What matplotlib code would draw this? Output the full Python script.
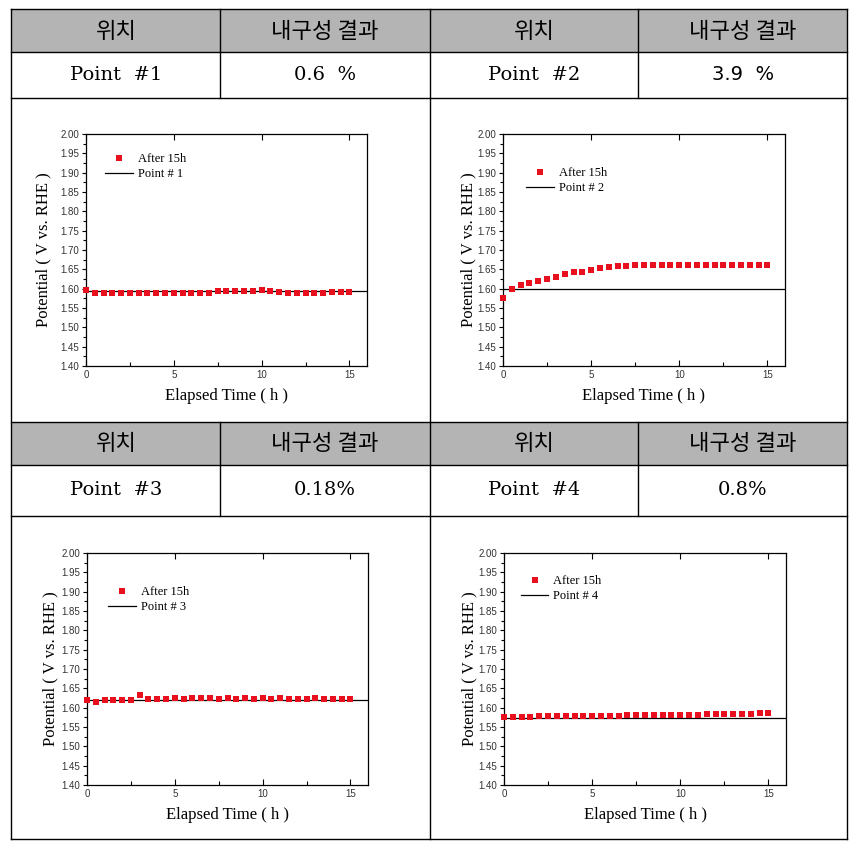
import matplotlib
matplotlib.use("Agg")
import matplotlib.pyplot as plt
from matplotlib.patches import Rectangle
from matplotlib.ticker import MultipleLocator, FormatStrFormatter

W, H = 857, 844

# --- table text
header_left = "위치"
header_right = "내구성 결과"
point_names = ["Point  #1", "Point  #2", "Point  #3", "Point  #4"]
durability = ["0.6  %", "3.9  %", "0.18%", "0.8%"]
legend_points = ["Point # 1", "Point # 2", "Point # 3", "Point # 4"]

# --- data (elapsed time in h, potential in V vs. RHE)
time_h = [0.0, 0.5, 1.0, 1.5, 2.0, 2.5, 3.0, 3.5, 4.0, 4.5, 5.0, 5.5, 6.0,
          6.5, 7.0, 7.5, 8.0, 8.5, 9.0, 9.5, 10.0, 10.5, 11.0, 11.5, 12.0,
          12.5, 13.0, 13.5, 14.0, 14.5, 15.0]

pot_1 = [1.596, 1.590, 1.590, 1.590, 1.590, 1.590, 1.590, 1.590, 1.589,
         1.589, 1.589, 1.588, 1.588, 1.590, 1.590, 1.593, 1.593, 1.594,
         1.595, 1.595, 1.596, 1.593, 1.591, 1.590, 1.590, 1.590, 1.590,
         1.590, 1.592, 1.592, 1.592]
pot_2 = [1.575, 1.598, 1.609, 1.615, 1.621, 1.626, 1.631, 1.637, 1.642,
         1.644, 1.648, 1.653, 1.656, 1.658, 1.659, 1.662, 1.661, 1.661,
         1.661, 1.660, 1.660, 1.660, 1.660, 1.660, 1.660, 1.660, 1.661,
         1.661, 1.661, 1.661, 1.662]
pot_3 = [1.620, 1.614, 1.620, 1.621, 1.619, 1.619, 1.634, 1.623, 1.623,
         1.623, 1.624, 1.623, 1.626, 1.624, 1.626, 1.623, 1.624, 1.623,
         1.624, 1.622, 1.624, 1.623, 1.624, 1.622, 1.623, 1.623, 1.624,
         1.623, 1.622, 1.623, 1.622]
pot_4 = [1.575, 1.575, 1.576, 1.577, 1.578, 1.578, 1.579, 1.579, 1.579,
         1.579, 1.579, 1.579, 1.579, 1.579, 1.580, 1.580, 1.580, 1.580,
         1.580, 1.580, 1.581, 1.582, 1.582, 1.583, 1.583, 1.584, 1.584,
         1.584, 1.584, 1.585, 1.585]
ref_line = [1.593, 1.600, 1.619, 1.573]
series = [pot_1, pot_2, pot_3, pot_4]

GRAY = "#b4b4b4"
RED = "#e8101c"
KR = ["Noto Sans CJK KR", "DejaVu Sans"]

fig = plt.figure(figsize=(W / 100, H / 100), dpi=100)
fig.patch.set_facecolor("white")

# background axes in pixel coordinates for the table
bg = fig.add_axes([0, 0, 1, 1], zorder=-1)
bg.set_xlim(0, W)
bg.set_ylim(H, 0)
bg.axis("off")

for top in (9, 422):
    bg.add_patch(Rectangle((11, top), 836, 43, facecolor=GRAY, edgecolor="none"))

lw = 1.0
for y in (9, 52, 98, 422, 465, 516, 839):
    bg.plot([11, 847], [y, y], color="black", lw=lw)
for x in (11, 430, 847):
    bg.plot([x, x], [9, 839], color="black", lw=lw)
for x in (220, 638):
    bg.plot([x, x], [9, 98], color="black", lw=lw)
    bg.plot([x, x], [422, 516], color="black", lw=lw)

# header and value rows
rows = [(31, 75, 0), (443, 490, 2)]
for y_head, y_val, k in rows:
    for col, xl, xr in ((0, 116, 325), (1, 534, 743)):
        bg.text(xl, y_head, header_left, ha="center", va="center",
                fontsize=16, family=KR)
        bg.text(xr, y_head, header_right, ha="center", va="center",
                fontsize=16, family=KR)
        i = k + col
        bg.text(xl, y_val, point_names[i], ha="center", va="center",
                fontsize=14, family="DejaVu Serif")
        fam = "DejaVu Sans" if i == 1 else "DejaVu Serif"
        bg.text(xr, y_val, durability[i], ha="center", va="center",
                fontsize=14, family=fam)

# chart panels: (left, top, right, bottom) in px, legend anchor, label offsets
panels = [
    ((86, 134, 367, 366), (0.068, 0.918), 43),
    ((503, 134, 785, 366), (0.082, 0.858), 35),
    ((87, 553, 368, 785), (0.075, 0.858), 37),
    ((504, 553, 786, 785), (0.060, 0.905), 35),
]

for i, ((l, t, r, b), leg_xy, ylab_off) in enumerate(panels):
    ax = fig.add_axes([l / W, 1 - b / H, (r - l) / W, (b - t) / H])
    ax.plot(time_h, series[i], "s", color=RED, ms=3.9, mew=0,
            label="After 15h", zorder=3, clip_on=False)
    ax.axhline(ref_line[i], color="black", lw=0.9, label=legend_points[i],
               zorder=2)
    ax.set_xlim(0, 16)
    ax.set_ylim(1.4, 2.0)
    ax.xaxis.set_major_locator(MultipleLocator(5))
    ax.xaxis.set_minor_locator(MultipleLocator(2.5))
    ax.yaxis.set_major_locator(MultipleLocator(0.05))
    ax.yaxis.set_minor_locator(MultipleLocator(0.025))
    ax.yaxis.set_major_formatter(FormatStrFormatter("%.2f"))
    ax.tick_params(axis="x", which="major", direction="in", length=4,
                   width=0.8, top=True, pad=3)
    ax.tick_params(axis="x", which="minor", direction="in", length=3,
                   width=0.8, top=False)
    ax.tick_params(axis="y", which="major", direction="out", length=3,
                   width=0.8, right=False, pad=2)
    ax.tick_params(axis="y", which="minor", direction="out", length=2,
                   width=0.8, right=False)
    for lab in ax.get_xticklabels() + ax.get_yticklabels():
        lab.set_family("Liberation Sans")
        lab.set_fontsize(7)
        lab.set_color("#333333")
    for sp in ax.spines.values():
        sp.set_linewidth(0.9)

    ax.set_xlabel("Elapsed Time ( h )", family="Liberation Serif",
                  fontsize=12, va="center")
    ax.xaxis.set_label_coords(0.5, -30 / (b - t))
    ax.set_ylabel("Potential ( V vs. RHE )", family="Liberation Serif",
                  fontsize=12, va="center")
    ax.yaxis.set_label_coords(-ylab_off / (r - l), 0.5)

    ax.legend(loc="upper left", bbox_to_anchor=leg_xy, frameon=False,
              borderaxespad=0, borderpad=0, handlelength=2.2,
              handletextpad=0.4, labelspacing=0.25,
              prop={"family": "Liberation Serif", "size": 9})

fig.savefig("out.png", dpi=100)
